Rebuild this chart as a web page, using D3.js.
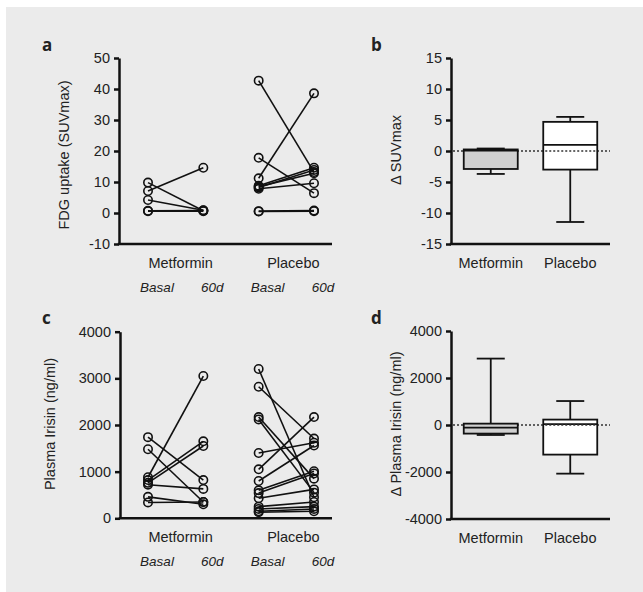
<!DOCTYPE html>
<html>
<head>
<meta charset="utf-8">
<script src="https://cdn.jsdelivr.net/npm/d3@7"></script>
<style>
  body { margin: 0; background: #fff; }
  svg text { font-family: "Liberation Sans", Arial, sans-serif; fill: #222; }
</style>
</head>
<body>
<div id="graph"></div>
<script>
// panel a: FDG uptake, paired basal / 60d values
const fdgMetBasal = [9.8, 7.1, 4.2, 0.7, 0.6];
const fdgMet60 = [0.7, 14.6, 0.9, 0.8, 0.6];
const fdgPlaBasal = [42.7, 11.2, 17.8, 8.8, 8.2, 7.8, 8.5, 0.6, 0.5];
const fdgPla60 = [13.2, 38.6, 6.4, 14.6, 13.9, 9.6, 12.8, 0.8, 0.6];

// panel c: plasma irisin, paired basal / 60d values
const irisinMetBasal = [1740, 1480, 880, 820, 760, 720, 460, 340];
const irisinMet60 = [820, 350, 3050, 1650, 1550, 630, 300, 350];
const irisinPlaBasal = [3200, 2820, 2170, 2120, 1400, 1050, 800, 600, 540, 430, 250, 200, 150, 130];
const irisinPla60 = [450, 1710, 850, 550, 1620, 2170, 1560, 1010, 960, 620, 350, 250, 200, 150];

// panels b, d: box plot stats
const groups = ["Metformin", "Placebo"];
const timepoints = ["Basal", "60d"];
const dSuvMin = [-3.7, -11.45];
const dSuvQ1 = [-2.9, -3.0];
const dSuvMed = [0.05, 1.0];
const dSuvQ3 = [0.25, 4.7];
const dSuvMax = [0.4, 5.5];
const dIrMin = [-425, -2070];
const dIrQ1 = [-366, -1260];
const dIrMed = [-110, 40];
const dIrQ3 = [58, 230];
const dIrMax = [2826, 1020];
const boxFill = ["#d0d0d0", "#ffffff"];

const ticksA = [-10, 0, 10, 20, 30, 40, 50];
const ticksB = [-15, -10, -5, 0, 5, 10, 15];
const ticksC = [0, 1000, 2000, 3000, 4000];
const ticksD = [-4000, -2000, 0, 2000, 4000];

const W = 643, H = 592;
const svg = d3.select("#graph").append("svg").attr("width", W).attr("height", H);
svg.append("rect").attr("x", 6).attr("y", 7).attr("width", W - 6).attr("height", H - 7).attr("fill", "#ebebeb");

const fontSize = "14.5px";

function yAxis(g, y, ticks) {
    g.call(d3.axisLeft(y).tickValues(ticks).tickSize(5).tickSizeOuter(0).tickFormat(d => String(d)));
    g.select(".domain").attr("stroke", "#111").attr("stroke-width", 2.5);
    g.selectAll(".tick line").attr("stroke", "#111").attr("stroke-width", 2.5);
    g.selectAll(".tick text").attr("font-size", fontSize).attr("fill", "#222").attr("x", -9)
        .style("font-family", '"Liberation Sans", Arial, sans-serif');
}

function hLine(x0, x1, yy) {
    svg.append("line").attr("x1", x0).attr("x2", x1).attr("y1", yy).attr("y2", yy)
        .attr("stroke", "#111").attr("stroke-width", 2.5);
}

function yTitle(txt, cx, cy) {
    svg.append("text").attr("transform", `translate(${cx},${cy}) rotate(-90)`)
        .attr("text-anchor", "middle").attr("dominant-baseline", "middle")
        .attr("font-size", fontSize).text(txt);
}

function panelLetter(txt, x, y) {
    svg.append("text").attr("x", x).attr("y", y).attr("font-size", "17px")
        .attr("font-weight", "bold").style("font-family", '"Open Sans", sans-serif').text(txt);
}

// paired dot panels (a, c)
function pairedPanel(opt) {
    const x = d3.scalePoint().domain(["MB", "M6", "PB", "P6"]).range([148, 314]);
    const y = d3.scaleLinear().domain(opt.domain).range(opt.range);

    const g = svg.append("g").attr("transform", `translate(${opt.axisX},0)`);
    yAxis(g, y, opt.ticks);
    hLine(opt.axisX - 1.2, 332, opt.range[0]);

    const sets = [
        ["MB", "M6", opt.metB, opt.met6],
        ["PB", "P6", opt.plaB, opt.pla6]
    ];
    sets.forEach(([k0, k1, a, b]) => {
        const pairs = a.map((v, i) => [v, b[i]]);
        svg.append("g").selectAll("line").data(pairs).enter().append("line")
            .attr("x1", x(k0)).attr("x2", x(k1))
            .attr("y1", d => y(d[0])).attr("y2", d => y(d[1]))
            .attr("stroke", "#111").attr("stroke-width", 1.6);
        const pts = pairs.flatMap(d => [[k0, d[0]], [k1, d[1]]]);
        svg.append("g").selectAll("circle").data(pts).enter().append("circle")
            .attr("cx", d => x(d[0])).attr("cy", d => y(d[1])).attr("r", 4.2)
            .attr("fill", "none").attr("stroke", "#111").attr("stroke-width", 1.6);
    });

    const base = opt.range[0];
    svg.append("text").attr("x", (x("MB") + x("M6")) / 2 + 5).attr("y", base + 24)
        .attr("text-anchor", "middle").attr("font-size", fontSize).text(groups[0]);
    svg.append("text").attr("x", (x("PB") + x("P6")) / 2 + 7).attr("y", base + 24)
        .attr("text-anchor", "middle").attr("font-size", fontSize).text(groups[1]);
    [["MB", 0], ["M6", 1], ["PB", 0], ["P6", 1]].forEach(([k, t]) => {
        svg.append("text").attr("x", x(k) + 9).attr("y", base + 48)
            .attr("text-anchor", "middle").attr("font-size", "13.5px")
            .attr("font-style", "italic").text(timepoints[t]);
    });
}

// box panels (b, d)
function boxPanel(opt) {
    const x = d3.scalePoint().domain(groups).range([451, 610]).padding(0.5);
    const y = d3.scaleLinear().domain(opt.domain).range(opt.range);
    const bw = 54, cap = 28;

    const g = svg.append("g").attr("transform", "translate(451,0)");
    yAxis(g, y, opt.ticks);
    hLine(449.8, 610, opt.range[0]);

    svg.append("line").attr("x1", 453).attr("x2", 610).attr("y1", y(0)).attr("y2", y(0))
        .attr("stroke", "#333").attr("stroke-width", 1.5).attr("stroke-dasharray", "2,2");

    groups.forEach((grp, i) => {
        const cx = x(grp);
        const gg = svg.append("g").attr("stroke", "#111").attr("stroke-width", 1.8);
        gg.append("line").attr("x1", cx).attr("x2", cx).attr("y1", y(opt.max[i])).attr("y2", y(opt.q3[i]));
        gg.append("line").attr("x1", cx).attr("x2", cx).attr("y1", y(opt.q1[i])).attr("y2", y(opt.min[i]));
        gg.append("line").attr("x1", cx - cap / 2).attr("x2", cx + cap / 2).attr("y1", y(opt.max[i])).attr("y2", y(opt.max[i]));
        gg.append("line").attr("x1", cx - cap / 2).attr("x2", cx + cap / 2).attr("y1", y(opt.min[i])).attr("y2", y(opt.min[i]));
        gg.append("rect").attr("x", cx - bw / 2).attr("width", bw)
            .attr("y", y(opt.q3[i])).attr("height", y(opt.q1[i]) - y(opt.q3[i]))
            .attr("fill", boxFill[i]);
        gg.append("line").attr("x1", cx - bw / 2).attr("x2", cx + bw / 2)
            .attr("y1", y(opt.med[i])).attr("y2", y(opt.med[i]));
        if (i === 1) {
            // dotted reference line shows through the white box
            svg.append("line").attr("x1", cx - bw / 2 + 2).attr("x2", cx + bw / 2 - 2)
                .attr("y1", y(0)).attr("y2", y(0))
                .attr("stroke", "#333").attr("stroke-width", 1.5).attr("stroke-dasharray", "2,2");
        }
        svg.append("text").attr("x", cx).attr("y", opt.range[0] + 24)
            .attr("text-anchor", "middle").attr("font-size", fontSize).text(grp);
    });
}

panelLetter("a", 42, 51);
pairedPanel({
    domain: [-10, 50], range: [244, 58], ticks: ticksA, axisX: 119,
    metB: fdgMetBasal, met6: fdgMet60, plaB: fdgPlaBasal, pla6: fdgPla60
});
yTitle("FDG uptake (SUVmax)", 65, 155);

panelLetter("b", 371, 51);
boxPanel({
    domain: [-15, 15], range: [244, 58], ticks: ticksB,
    min: dSuvMin, q1: dSuvQ1, med: dSuvMed, q3: dSuvQ3, max: dSuvMax
});
yTitle("\u0394 SUVmax", 397, 150);

panelLetter("c", 42, 324);
pairedPanel({
    domain: [0, 4000], range: [518.3, 331.7], ticks: ticksC, axisX: 120,
    metB: irisinMetBasal, met6: irisinMet60, plaB: irisinPlaBasal, pla6: irisinPla60
});
yTitle("Plasma Irisin (ng/ml)", 51, 424);

panelLetter("d", 371, 324);
boxPanel({
    domain: [-4000, 4000], range: [519, 331], ticks: ticksD,
    min: dIrMin, q1: dIrQ1, med: dIrMed, q3: dIrQ3, max: dIrMax
});
yTitle("\u0394 Plasma Irisin (ng/ml)", 397, 424);
</script>
</body>
</html>
